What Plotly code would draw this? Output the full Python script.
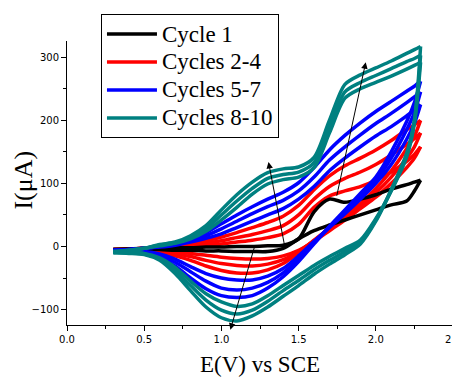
import plotly.graph_objects as go

# Potential grid (V vs SCE)
E = [0.3, 0.4, 0.5, 0.6, 0.7, 0.8, 0.9, 1.0, 1.1, 1.2, 1.3, 1.4, 1.5, 1.6, 1.7, 1.8, 1.9, 2.0, 2.1, 2.2, 2.25, 2.29]

# Forward (anodic) scans, current in uA
C1_fwd = [-5, -4, -3, -3, -2, -2, -1, -1, 0, 0, 1, 2, 12, 55, 75, 70, 75, 82, 91, 98, 102, 105]
C2_fwd = [-5, -4, -3, -2, -1, 0, 2, 4, 7, 10, 14, 20, 35, 62, 80, 88, 95, 105, 118, 135, 146, 158]
C3_fwd = [-5, -4, -3, -2, 0, 2, 5, 9, 14, 19, 25, 33, 50, 75, 95, 108, 118, 130, 145, 162, 171, 180]
C4_fwd = [-6, -4, -3, -1, 1, 4, 9, 15, 22, 30, 38, 48, 65, 90, 112, 128, 140, 153, 168, 185, 193, 200]
C5_fwd = [-6, -5, -3, -1, 2, 7, 13, 20, 30, 40, 50, 60, 75, 95, 120, 140, 158, 175, 190, 207, 216, 225]
C6_fwd = [-6, -5, -3, 0, 3, 9, 17, 28, 40, 52, 63, 73, 88, 110, 137, 158, 177, 195, 211, 228, 237, 245]
C7_fwd = [-7, -5, -3, 0, 4, 11, 22, 36, 50, 63, 75, 86, 101, 125, 153, 176, 196, 214, 230, 246, 254, 262]
C8_fwd = [-8, -6, -3, 1, 5, 12, 24, 42, 62, 83, 99, 106, 110, 125, 180, 235, 250, 260, 270, 281, 287, 292]
C9_fwd = [-9, -6, -3, 2, 6, 14, 28, 50, 72, 92, 108, 114, 118, 133, 190, 245, 260, 271, 282, 293, 298, 303]
C10_fwd = [-10, -7, -3, 3, 7, 17, 33, 58, 82, 102, 117, 123, 126, 141, 200, 257, 272, 283, 294, 306, 312, 317]

# Reverse (cathodic) scans, same potential grid
C1_rev = [-5, -5, -5, -5, -6, -6, -7, -7, -8, -8, -8, -3, 12, 25, 34, 42, 50, 58, 66, 72, 88, 105]
C2_rev = [-5, -5, -6, -7, -9, -11, -14, -17, -19, -20, -19, -15, -6, 8, 25, 42, 60, 78, 100, 125, 140, 158]
C3_rev = [-6, -6, -7, -9, -12, -16, -22, -27, -30, -31, -28, -21, -8, 9, 27, 45, 64, 85, 110, 140, 158, 180]
C4_rev = [-6, -7, -8, -10, -15, -22, -31, -38, -42, -42, -37, -27, -10, 10, 29, 48, 68, 92, 120, 155, 175, 200]
C5_rev = [-6, -7, -8, -12, -20, -32, -43, -50, -53, -53, -47, -35, -15, 8, 30, 52, 75, 100, 130, 170, 195, 225]
C6_rev = [-7, -7, -9, -15, -25, -40, -55, -66, -69, -66, -57, -42, -20, 6, 31, 55, 80, 105, 140, 185, 212, 245]
C7_rev = [-7, -8, -10, -18, -31, -50, -67, -78, -81, -78, -66, -48, -24, 4, 32, 58, 84, 110, 150, 198, 228, 262]
C8_rev = [-8, -9, -11, -18, -33, -55, -75, -88, -95, -91, -78, -62, -46, -30, -16, -3, 10, 44, 88, 142, 195, 292]
C9_rev = [-9, -10, -12, -20, -38, -62, -85, -101, -107, -101, -87, -70, -54, -37, -22, -8, 7, 42, 89, 145, 198, 303]
C10_rev = [-10, -11, -13, -22, -43, -70, -96, -113, -118, -110, -96, -79, -62, -44, -28, -13, 4, 40, 90, 148, 200, 317]

# Groups
group_names = ["Cycle 1", "Cycles 2-4", "Cycles 5-7", "Cycles 8-10"]
group_colors = ["#000000", "#FF0000", "#0000FF", "#008080"]
group_cycles = [
    [(C1_fwd, C1_rev)],
    [(C2_fwd, C2_rev), (C3_fwd, C3_rev), (C4_fwd, C4_rev)],
    [(C5_fwd, C5_rev), (C6_fwd, C6_rev), (C7_fwd, C7_rev)],
    [(C8_fwd, C8_rev), (C9_fwd, C9_rev), (C10_fwd, C10_rev)],
]
draw_order = [1, 0, 2, 3]

# Arrows (tail -> head) in data units
ARROW_TAIL = [(1.415, -6), (1.745, 78), (1.215, 0)]
ARROW_HEAD = [(1.305, 134), (1.935, 292), (1.058, -132)]

X_TICKS = [0.0, 0.5, 1.0, 1.5, 2.0, 2.5]
X_TICKTEXT = ["0.0", "0.5", "1.0", "1.5", "2.0", "2.5"]
Y_TICKS = [-100, 0, 100, 200, 300]

SERIF = "Liberation Serif, Times New Roman, serif"

fig = go.Figure()
for gi in draw_order:
    for ci, (fwd, rev) in enumerate(group_cycles[gi]):
        for bi, ys in enumerate((fwd, rev)):
            fig.add_trace(go.Scatter(
                x=E, y=ys, mode="lines",
                line=dict(color=group_colors[gi], width=3.5, shape="spline", smoothing=0.8),
                name="<span style=\"font-family:'Liberation Serif',serif;font-size:23px\">" + group_names[gi] + "</span>",
                legendrank=gi + 1,
                showlegend=(ci == 0 and bi == 0),
                hoverinfo="skip",
            ))

for (ax, ay), (hx, hy) in zip(ARROW_TAIL, ARROW_HEAD):
    fig.add_annotation(
        x=hx, y=hy, ax=ax, ay=ay, xref="x", yref="y", axref="x", ayref="y",
        text="", showarrow=True, arrowhead=2, arrowsize=1.3, arrowwidth=1,
        arrowcolor="#000000",
    )

# y-axis title
fig.add_annotation(
    x=-0.113, y=0.51, xref="paper", yref="paper", text="I(μA)", textangle=-90,
    showarrow=False, xanchor="center", yanchor="middle",
    font=dict(family=SERIF, size=26, color="#000000"),
)

tickfont = dict(family="DejaVu Sans", size=10, color="#000000")
fig.update_layout(
    width=452, height=369,
    margin=dict(l=59, r=7, t=33, b=52, autoexpand=False),
    paper_bgcolor="white", plot_bgcolor="white",
    font=dict(family=SERIF, color="#000000"),
    showlegend=True,
    legend=dict(
        x=0.088, y=1.095, xanchor="left", yanchor="top",
        font=dict(family=SERIF, size=19.2, color="#000000"),
        bordercolor="#000000", borderwidth=1, bgcolor="white",
        tracegroupgap=0, itemwidth=50, traceorder="normal",
    ),
    xaxis=dict(
        range=[0, 2.5], tickvals=X_TICKS, ticktext=X_TICKTEXT,
        ticklabeloverflow="allow",
        showline=True, linecolor="#000000", linewidth=1, mirror=False,
        ticks="outside", ticklen=5, tickcolor="#000000", tickwidth=1,
        minor=dict(dtick=0.25, ticks="outside", ticklen=3, tickcolor="#000000", showgrid=False),
        showgrid=False, zeroline=False, tickfont=tickfont,
        title=dict(text="E(V) vs SCE", font=dict(family=SERIF, size=23, color="#000000"), standoff=12),
    ),
    yaxis=dict(
        range=[-124.5, 325.7], tickvals=Y_TICKS,
        showline=True, linecolor="#000000", linewidth=1, mirror=False,
        ticks="outside", ticklen=5, tickcolor="#000000", tickwidth=1,
        minor=dict(dtick=50, ticks="outside", ticklen=3, tickcolor="#000000", showgrid=False),
        showgrid=False, zeroline=False, tickfont=tickfont,
    ),
)

fig.write_html("out.html")
